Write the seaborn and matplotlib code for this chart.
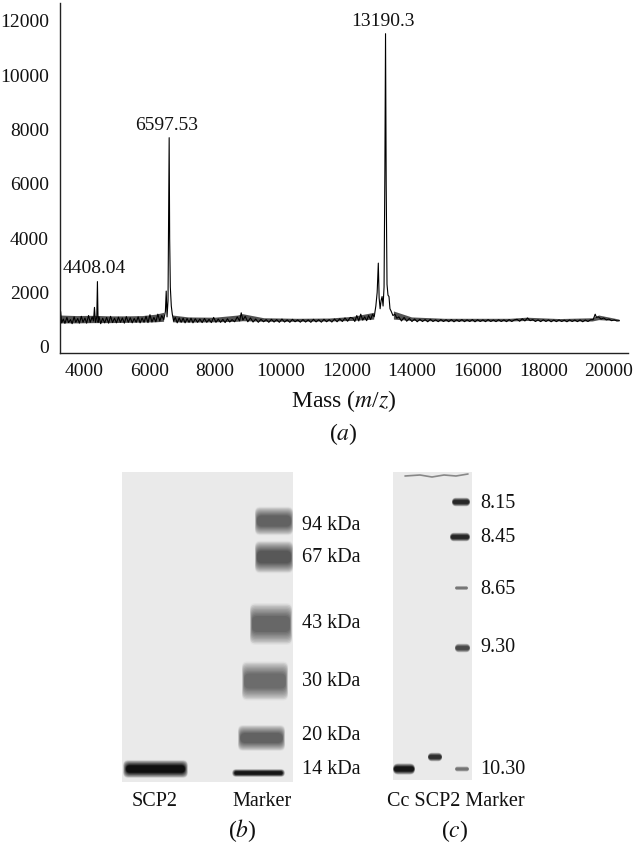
import numpy as np
import matplotlib
matplotlib.use("Agg")
import matplotlib.pyplot as plt
import seaborn as sns
from matplotlib.patches import FancyBboxPatch, Rectangle

# mass spectrum trace (mass, intensity)
mass = [3300, 3330, 3380, 3430, 3490, 3540, 3600, 3650, 3710, 3760, 3820, 3870, 3930, 3980,
        4040, 4090, 4150, 4200, 4260, 4300, 4330, 4360, 4400, 4420, 4440, 4470, 4520, 4580,
        4640, 4700, 4760, 4820, 4880, 4940, 5000, 5060, 5120, 5180, 5240, 5300, 5360, 5420,
        5480, 5540, 5600, 5660, 5720, 5780, 5840, 5900, 5960, 6020, 6080, 6140, 6200, 6260,
        6320, 6380, 6440, 6490, 6515, 6540, 6570, 6590, 6605, 6620, 6640, 6670, 6700, 6740,
        6790, 6850, 6910, 6970, 7030, 7090, 7150, 7210, 7270, 7330, 7400, 7470, 7540, 7610,
        7680, 7750, 7820, 7890, 7960, 8030, 8100, 8170, 8240, 8310, 8380, 8450, 8520, 8600,
        8680, 8750, 8800, 8850, 8920, 9000, 9080, 9160, 9240, 9320, 9400, 9480, 9560, 9640,
        9720, 9800, 9880, 9960, 10040, 10120, 10200, 10280, 10360, 10440, 10520, 10600, 10680,
        10760, 10840, 10920, 11000, 11080, 11160, 11240, 11320, 11400, 11480, 11560, 11640,
        11720, 11800, 11880, 11960, 12040, 12120, 12200, 12260, 12320, 12380, 12440, 12500,
        12560, 12620, 12680, 12740, 12800, 12850, 12900, 12940, 12975, 13000, 13030, 13060,
        13090, 13120, 13150, 13175, 13195, 13215, 13240, 13270, 13300, 13330, 13370, 13420,
        13480, 13540, 13600, 13680, 13760, 13840, 13920, 14000, 14080, 14160, 14240, 14320,
        14400, 14480, 14560, 14640, 14720, 14800, 14880, 14960, 15040, 15120, 15200, 15280,
        15360, 15440, 15520, 15600, 15680, 15760, 15840, 15920, 16000, 16080, 16160, 16240,
        16320, 16400, 16480, 16560, 16640, 16720, 16800, 16880, 16960, 17040, 17120, 17200,
        17280, 17360, 17440, 17520, 17600, 17680, 17760, 17840, 17920, 18000, 18080, 18160,
        18240, 18320, 18400, 18480, 18560, 18640, 18720, 18800, 18880, 18960, 19040, 19120,
        19200, 19280, 19360, 19440, 19520, 19580, 19620, 19680, 19760, 19840, 19920, 20000,
        20080, 20160, 20240, 20320]
intensity = [1300, 880, 1020, 860, 1080, 890, 1000, 850, 1100, 900, 1040, 870, 1120, 900,
             1060, 870, 1150, 900, 1100, 950, 1450, 900, 1100, 2400, 900, 1100, 850, 1050,
             880, 1080, 870, 1120, 890, 1050, 880, 1090, 900, 1060, 870, 1110, 900, 1070,
             880, 1040, 900, 1100, 880, 1060, 900, 1120, 890, 1180, 910, 1080, 920, 1200,
             950, 1150, 1000, 1300, 2050, 1100, 1700, 5000, 7700, 4000, 2200, 1500, 1200, 950,
             1080, 880, 1060, 900, 1050, 880, 1040, 900, 1050, 880, 1030, 900, 1020, 890,
             1040, 900, 1010, 890, 1080, 900, 1020, 900, 1010, 890, 1030, 910, 1000, 920,
             1100, 950, 1250, 980, 1120, 920, 1060, 910, 1020, 900, 1010, 920, 1000, 900,
             1010, 910, 1000, 900, 1020, 910, 990, 900, 1010, 920, 990, 905, 1000,
             910, 990, 900, 1010, 915, 995, 905, 1010, 920, 1000, 910, 1020,
             920, 1030, 930, 1060, 940, 1080, 1050, 930, 1150, 950, 1200, 980,
             1100, 960, 1150, 1000, 1200, 1100, 1500, 2000, 3080, 1800, 1400, 1700,
             1850, 1500, 2200, 6500, 11530, 6000, 2300, 1900, 1850, 1400, 1300, 1150,
             1200, 1050, 1100, 950, 1080, 940, 1040, 930, 1020, 920, 1010, 930,
             1000, 920, 1010, 930, 990, 925, 1000, 930, 995, 925, 1000, 920,
             990, 930, 1000, 925, 990, 930, 1000, 920, 995, 930, 990, 925,
             1000, 930, 985, 925, 995, 930, 990, 925, 1000, 930, 990, 1010,
             940, 1030, 950, 1060, 960, 1000, 930, 990, 925, 995, 930, 990,
             920, 985, 925, 990, 930, 980, 920, 990, 930, 985, 925, 990,
             920, 985, 930, 995, 1000, 1200, 1080, 1100, 1020, 1060, 990, 1020,
             960, 990, 950, 960]

# envelope of the dense baseline noise (None = gap under the main peaks)
noise_mass = [3300, 3800, 4300, 4800, 5300, 5800, 6200, 6450, None,
              6720, 7200, 8000, 8700, 8850, 9500, 10500, 11500, 12200, 12850, None,
              13450, 14000, 15000, 16000, 17000, 17500, 18500, 19500, 19700, 20320]
noise_lo = [860, 860, 870, 870, 880, 890, 900, 920, None,
            900, 890, 900, 920, 940, 920, 920, 930, 950, 1000, None,
            1000, 950, 930, 930, 930, 950, 930, 930, 980, 940]
noise_hi = [1150, 1130, 1140, 1120, 1120, 1130, 1180, 1250, None,
            1150, 1080, 1070, 1150, 1200, 1050, 1030, 1040, 1100, 1250, None,
            1300, 1080, 1030, 1030, 1030, 1070, 1020, 1050, 1150, 1000]

peak_mass = [4420, 6605, 13195]
peak_height = [2400, 7700, 11530]
peak_labels = ["4408.04", "6597.53", "13190.3"]

x_ticks = [4000, 6000, 8000, 10000, 12000, 14000, 16000, 18000, 20000]
y_ticks = [0, 2000, 4000, 6000, 8000, 10000, 12000]

# gel (b): lane bands (x0, x1, y centre, height, darkness) in picture pixels
gel_b_bands = [(255, 293, 521, 22, 0.62), (255, 293, 557, 25, 0.66), (250, 292, 624, 32, 0.6),
               (242, 288, 681, 30, 0.58), (238, 285, 738, 20, 0.62), (232, 285, 773, 6, 0.92),
               (123, 188, 769, 14, 0.95)]
gel_b_labels = ["94 kDa", "67 kDa", "43 kDa", "30 kDa", "20 kDa", "14 kDa"]
gel_b_label_y = [525, 558, 624, 681, 736, 770]
gel_b_lanes = ["SCP2", "Marker"]

# gel (c): isoelectric focusing bands
gel_c_bands = [(393, 415, 769, 9, 0.92), (428, 442, 757, 7, 0.82), (452, 470, 502, 7, 0.85),
               (450, 470, 537, 7, 0.85), (455, 468, 588, 3, 0.55), (455, 470, 648, 7, 0.72),
               (455, 469, 769, 4, 0.55)]
gel_c_labels = ["8.15", "8.45", "8.65", "9.30", "10.30"]
gel_c_label_y = [503, 538, 589, 648, 770]

sns.set_theme(style="white")
plt.rcParams['font.family'] = ['Liberation Serif', 'DejaVu Serif']
plt.rcParams['mathtext.fontset'] = 'stix'

fig = plt.figure(figsize=(6.4, 8.52), dpi=100)

# ---- (a) mass spectrum
ax = fig.add_axes([60 / 640, 1 - 353 / 852, 568 / 640, 350 / 852])
nm = np.array(noise_mass, dtype=float)
ax.fill_between(nm, np.array(noise_lo, dtype=float), np.array(noise_hi, dtype=float),
                color='#1a1a1a', alpha=0.75, lw=0)
sns.lineplot(x=mass, y=intensity, ax=ax, color='black', lw=0.8, estimator=None, sort=False)
for m, h, lab in zip(peak_mass, peak_height, peak_labels):
    ax.annotate(lab, (m, h), xytext=(-2, 3), textcoords='offset points',
                ha='center', va='bottom', fontsize=14, color='#111111')
ax.set_xlim(3280, 20580)
ax.set_ylim(-230, 12660)
ax.set_xticks(x_ticks)
ax.set_yticks(y_ticks)
ax.tick_params(axis='both', length=3, width=0.8, color='#333333', labelsize=14)
ax.tick_params(axis='x', pad=4)
ax.tick_params(axis='y', pad=5)
for lab in ax.get_xticklabels() + ax.get_yticklabels():
    lab.set_color('#111111')
ax.set_xlabel('Mass ($m$/$z$)', fontsize=17, color='#111111', labelpad=6)
ax.set_ylabel('')
sns.despine(ax=ax)
for s in ['left', 'bottom']:
    ax.spines[s].set_color('#222222')
    ax.spines[s].set_linewidth(1.0)
fig.text(343 / 640, 1 - 434 / 852, '($a$)', ha='center', va='center', fontsize=17, color='#111111')

# ---- (b) and (c) gels drawn in pixel space
gx = fig.add_axes([0, 0, 1, 1 - 455 / 852])
gx.set_xlim(0, 640)
gx.set_ylim(852, 455)
gx.axis('off')

bg = '#eaeaea'
gx.add_patch(Rectangle((122, 472), 171, 310, color=bg, lw=0))
gx.add_patch(Rectangle((393, 472), 79, 308, color=bg, lw=0))
# well edge at top of gel (c)
gx.plot([405, 420, 432, 444, 456, 468], [476, 475, 477, 475, 476, 474], color='#888888', lw=1.2)


def draw_band(x0, x1, yc, h, dark):
    steps = 10
    for k in range(steps):
        f = k / (steps - 1)
        w = (x1 - x0) * (1 - 0.1 * f)
        hh = max(h * (1.3 - 0.8 * f), 1.5)
        level = 0.88 - (0.88 - (1 - dark)) * f ** 0.8
        gx.add_patch(FancyBboxPatch((x0 + ((x1 - x0) - w) / 2, yc - hh / 2), w, hh,
                                    boxstyle="round,pad=0,rounding_size=%.1f" % min(hh / 2, 5),
                                    color=str(level), lw=0, alpha=0.9))


for b in gel_b_bands + gel_c_bands:
    draw_band(*b)

for lab, y in zip(gel_b_labels, gel_b_label_y):
    gx.text(302, y, lab, ha='left', va='center', fontsize=14.5, color='#111111')
for lab, y in zip(gel_c_labels, gel_c_label_y):
    gx.text(480, y, lab, ha='left', va='center', fontsize=14.5, color='#111111')

gx.text(155, 802, gel_b_lanes[0], ha='center', va='center', fontsize=14.5, color='#111111')
gx.text(262, 802, gel_b_lanes[1], ha='center', va='center', fontsize=14.5, color='#111111')
gx.text(456, 802, 'Cc SCP2 Marker', ha='center', va='center', fontsize=14.5, color='#111111')
gx.text(242, 831, '($b$)', ha='center', va='center', fontsize=17, color='#111111')
gx.text(455, 831, '($c$)', ha='center', va='center', fontsize=17, color='#111111')

fig.savefig('out.png', dpi=100, facecolor='white')
